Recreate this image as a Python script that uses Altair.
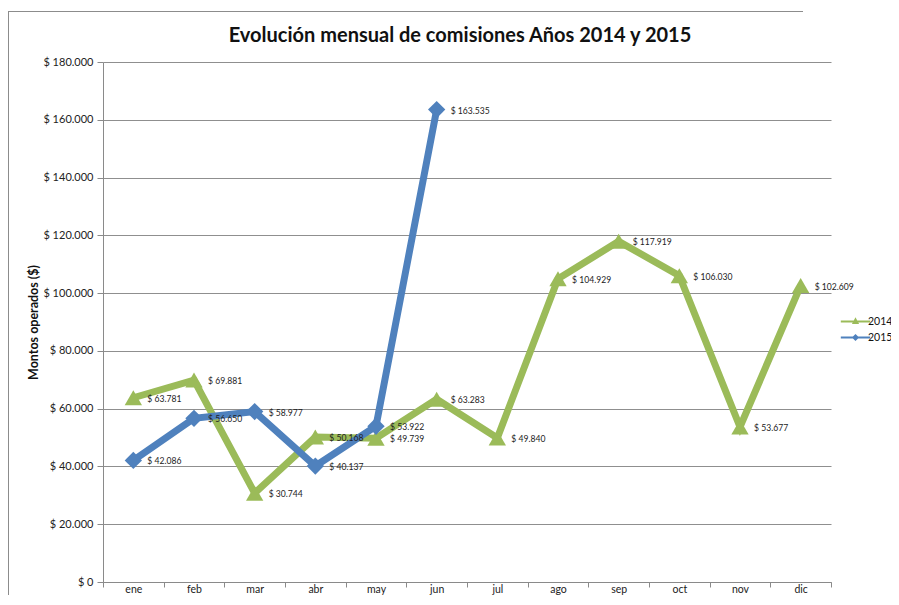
import altair as alt
import pandas as pd

months = ["ene", "feb", "mar", "abr", "may", "jun", "jul", "ago", "sep", "oct", "nov", "dic"]
v2014 = [63781, 69881, 30744, 50168, 49739, 63283, 49840, 104929, 117919, 106030, 53677, 102609]
v2015 = [42086, 56650, 58977, 40137, 53922, 163535]
years = ["2014", "2015"]
colors = ["#9BBB59", "#4F81BD"]
y_ticks = [0, 20000, 40000, 60000, 80000, 100000, 120000, 140000, 160000, 180000]

rows = []
for yr, vals in zip(years, [v2014, v2015]):
    for m, v in zip(months, vals):
        rows.append({"mes": m, "year": yr, "valor": v,
                     "label": "$ " + f"{v:,}".replace(",", ".")})
df = pd.DataFrame(rows)

FONT = "Lato"

x_enc = alt.X(
    "mes:N", sort=months, bandPosition=0.5,
    scale=alt.Scale(type="band", domain=months, paddingInner=0, paddingOuter=0),
    axis=alt.Axis(title=None, tickBand="extent", labelAngle=0, grid=False,
                  labelFont=FONT, labelFontSize=10.5, labelColor="#222222",
                  labelPadding=-3, tickSize=5, tickColor="#8a8a8a",
                  domainColor="#8a8a8a"),
)
y_enc = alt.Y(
    "valor:Q",
    scale=alt.Scale(domain=[0, 180000], nice=False, zero=True),
    axis=alt.Axis(title="Montos operados ($)", values=y_ticks,
                  labelExpr="datum.value == 0 ? '$ 0' : '$ ' + format(datum.value / 1000, 'd') + '.000'",
                  labelFont=FONT, labelFontSize=11, labelColor="#222222",
                  labelPadding=4, tickSize=6, tickColor="#8a8a8a",
                  domainColor="#8a8a8a", gridColor="#8f8f8f", grid=True,
                  titleFont=FONT, titleFontSize=12.5, titleFontWeight="bold",
                  titleColor="#111111", titlePadding=2),
)

color_scale = alt.Scale(domain=years, range=colors)

base = alt.Chart(df)

lines = base.mark_line(strokeWidth=7).encode(
    x=x_enc, y=y_enc,
    color=alt.Color("year:N", scale=color_scale, legend=None),
)

points = base.mark_point(filled=True, size=300, opacity=1).encode(
    x=x_enc, y=y_enc,
    color=alt.Color("year:N", scale=color_scale, legend=None),
    shape=alt.Shape("year:N", scale=alt.Scale(domain=years, range=["triangle-up", "diamond"]), legend=None),
)

labels = base.mark_text(align="left", baseline="middle", dx=14, dy=1,
                        fontSize=8.6, font=FONT, color="#222222").encode(
    x=x_enc, y=y_enc, text="label:N",
)

path14 = "M-1.4,-0.1H1.4V0.1H-1.4Z M0,-0.4L0.34,0.24L-0.34,0.24Z"
path15 = "M-1.4,-0.1H1.4V0.1H-1.4Z M0,-0.34L0.34,0L0,0.34L-0.34,0Z"

leg_props = dict(title=None, orient="none", legendX=742, legendY=249,
                 symbolSize=441, labelOffset=2, labelFont=FONT,
                 labelFontSize=10.5, labelColor="#111111", rowPadding=0,
                 symbolStrokeWidth=0)

legend_layer = base.transform_filter("false").mark_point(filled=True, opacity=1, strokeWidth=0).encode(
    x=x_enc, y=y_enc,
    color=alt.Color("year:N", scale=alt.Scale(domain=years, range=colors), legend=alt.Legend(**leg_props)),
    shape=alt.Shape("year:N", scale=alt.Scale(domain=years, range=[path14, path15]), legend=alt.Legend(**leg_props)),
)

frame_df = pd.DataFrame({"a": [0]})
frame_top = alt.Chart(frame_df).mark_rect(color="#8c8c8c", strokeWidth=0).encode(
    x=alt.value(-95), x2=alt.value(700), y=alt.value(-51), y2=alt.value(-50))
frame_left = alt.Chart(frame_df).mark_rect(color="#8c8c8c", strokeWidth=0).encode(
    x=alt.value(-95), x2=alt.value(-94), y=alt.value(-51), y2=alt.value(533))

chart = alt.layer(frame_top, frame_left, lines, points, labels, legend_layer).resolve_scale(
    color="independent", shape="independent"
).properties(
    width=728, height=520,
    title=alt.TitleParams("Evolución mensual de comisiones Años 2014 y 2015",
                          font=FONT, fontSize=20, fontWeight="bold",
                          color="#111111", anchor="middle", offset=0,
                          baseline="alphabetic", dy=51, dx=-7),
    autosize=alt.AutoSizeParams(type="none"),
    padding={"left": 95, "top": 54, "right": 60, "bottom": 15},
).configure_view(stroke=None)

chart.save("out.html", embed_options={"renderer": "svg", "actions": False})
